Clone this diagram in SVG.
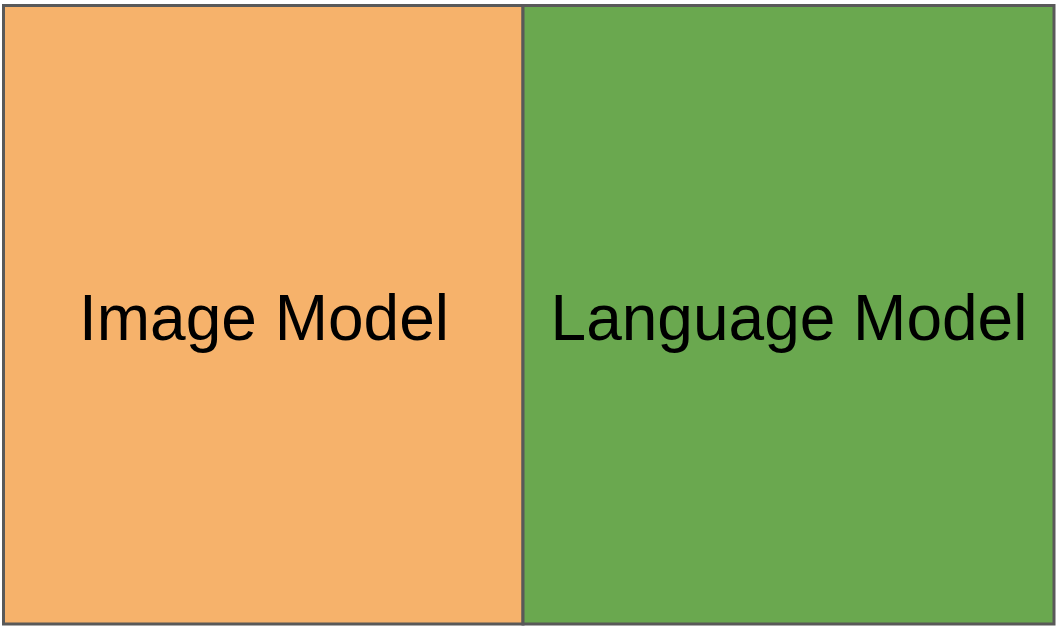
<svg xmlns="http://www.w3.org/2000/svg" width="1057" height="627" viewBox="0 0 1057 627">
  <style>
    .box { stroke: #595959; stroke-width: 3; }
    .label { font-family: "Liberation Sans", Arial, sans-serif; font-size: 64px; fill: #000000; text-anchor: middle; }
  </style>
  <rect width="1057" height="627" fill="#ffffff"/>
  <g id="image-model">
    <rect class="box" x="3.5" y="5.5" width="519.5" height="618.5" fill="#F6B26B"/>
    <text class="label" x="264" y="340">Image Model</text>
  </g>
  <g id="language-model">
    <rect class="box" x="523" y="5.5" width="531" height="618.5" fill="#6AA84F"/>
    <text class="label" x="789" y="340">Language Model</text>
  </g>
  <g id="connectors"/>
</svg>
